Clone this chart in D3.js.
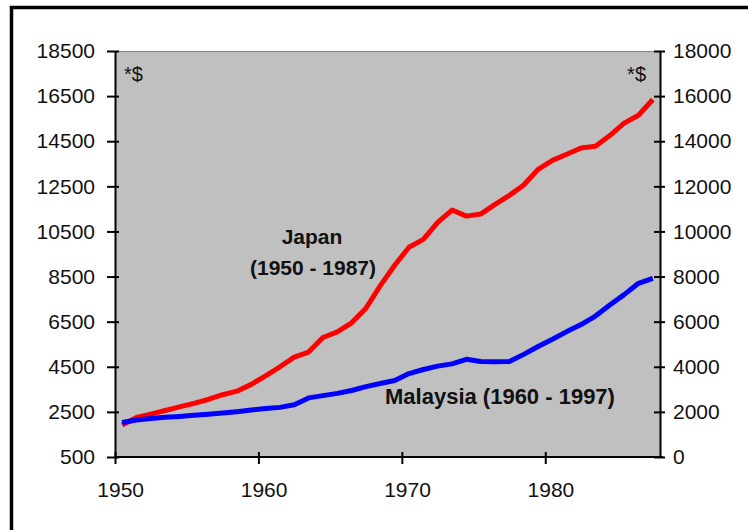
<!DOCTYPE html>
<html><head><meta charset="utf-8">
<script src="https://cdn.jsdelivr.net/npm/d3@7"></script>
<style>
html,body{margin:0;padding:0;background:#fff;}
svg{display:block;font-family:"Liberation Sans",Arial,sans-serif;}
</style></head>
<body>
<svg id="chart" width="748" height="530"></svg>
<script>
// ---- data ----
const japanYears = d3.range(1950, 1988);
const japanValues = [1920,2250,2400,2560,2720,2880,3050,3260,3420,3720,
  4100,4500,4930,5150,5800,6050,6450,7100,8100,9000,
  9800,10150,10900,11450,11180,11270,11700,12100,12560,13250,
  13650,13920,14200,14280,14750,15300,15650,16350];
const malaysiaYears = d3.range(1960, 1998);
const malaysiaValues = [1530,1640,1710,1760,1800,1850,1900,1950,2010,2080,
  2150,2200,2320,2620,2720,2820,2950,3120,3260,3390,
  3700,3880,4030,4130,4330,4230,4220,4230,4550,4900,
  5220,5560,5870,6250,6740,7200,7700,7920];
const xTickYears = [1950, 1960, 1970, 1980];
const leftTicks = [500,2500,4500,6500,8500,10500,12500,14500,16500,18500];
const rightTicks = [0,2000,4000,6000,8000,10000,12000,14000,16000,18000];
const japanLabel = ["Japan", "(1950 - 1987)"];
const malaysiaLabel = "Malaysia (1960 - 1997)";
const unitLabel = "*$";

// ---- layout ----
const L = 115, R = 660, T = 51, B = 457;
const svg = d3.select("#chart");

// outer frame (top and left visible)
svg.append("rect").attr("x", 11.5).attr("y", 7.5).attr("width", 800).attr("height", 600)
  .attr("fill", "none").attr("stroke", "#000").attr("stroke-width", 3.5);

const x = d3.scaleLinear().domain([1950, 1988]).range([L, R]);
const yL = d3.scaleLinear().domain([500, 18500]).range([B, T]);
const yR = d3.scaleLinear().domain([0, 18000]).range([B, T]);

// plot area
svg.append("rect").attr("x", L).attr("y", T).attr("width", R - L).attr("height", B - T)
  .attr("fill", "#c0c0c0");
svg.append("line").attr("x1", L).attr("x2", R).attr("y1", T + 0.5).attr("y2", T + 0.5)
  .attr("stroke", "#808080").attr("stroke-width", 1);

const fs = "21px";

// left axis
const gL = svg.append("g").attr("transform", `translate(${L},0)`)
  .call(d3.axisLeft(yL).tickValues(leftTicks).tickFormat(d3.format("d")).tickSizeInner(8).tickSizeOuter(0).tickPadding(12));
gL.selectAll(".tick line").attr("x1", 4).attr("stroke-width", 2);
gL.select(".domain").attr("stroke-width", 2);
gL.selectAll("text").attr("font-size", fs).attr("fill", "#111").attr("font-family", null);

// right axis
const gR = svg.append("g").attr("transform", `translate(${R},0)`)
  .call(d3.axisRight(yR).tickValues(rightTicks).tickFormat(d3.format("d")).tickSizeInner(5).tickSizeOuter(0).tickPadding(8));
gR.selectAll(".tick line").attr("x1", -6).attr("stroke-width", 2);
gR.select(".domain").attr("stroke-width", 2);
gR.selectAll("text").attr("font-size", fs).attr("fill", "#111").attr("font-family", null);

// bottom axis
const gB = svg.append("g").attr("transform", `translate(0,${B})`)
  .call(d3.axisBottom(x).tickValues(xTickYears).tickFormat(d3.format("d")).tickSizeInner(7).tickSizeOuter(0).tickPadding(18));
gB.selectAll(".tick line").attr("y1", -5).attr("stroke-width", 2);
gB.select(".domain").attr("stroke-width", 2).attr("d", `M${L},0H${R + 3}`);
gB.selectAll("text").attr("font-size", fs).attr("fill", "#111").attr("font-family", null)
  .attr("dx", (x(1950.5) - x(1950)) - 2);
svg.selectAll(".domain").attr("stroke", "#000");

// lines
const lineJ = d3.line().x((d, i) => x(japanYears[i] + 0.5)).y(d => yL(d));
const lineM = d3.line().x((d, i) => x(malaysiaYears[i] - 10 + 0.5)).y(d => yR(d));
svg.append("path").datum(japanValues).attr("d", lineJ)
  .attr("fill", "none").attr("stroke", "#ff0000").attr("stroke-width", 5)
  .attr("stroke-linejoin", "round");
svg.append("path").datum(malaysiaValues).attr("d", lineM)
  .attr("fill", "none").attr("stroke", "#0000ff").attr("stroke-width", 5)
  .attr("stroke-linejoin", "round");

// annotations
svg.append("text").attr("x", 124).attr("y", 81).attr("font-size", "20px").attr("fill", "#111").text(unitLabel);
svg.append("text").attr("x", 646).attr("y", 81).attr("text-anchor", "end").attr("font-size", "20px").attr("fill", "#111").text(unitLabel);

svg.append("text").attr("x", 312).attr("y", 244).attr("text-anchor", "middle")
  .attr("font-size", fs).attr("font-weight", "bold").attr("fill", "#111").text(japanLabel[0]);
svg.append("text").attr("x", 313).attr("y", 275).attr("text-anchor", "middle")
  .attr("font-size", fs).attr("font-weight", "bold").attr("fill", "#111").text(japanLabel[1]);
svg.append("text").attr("x", 385).attr("y", 404)
  .attr("font-size", "22px").attr("font-weight", "bold").attr("fill", "#111").text(malaysiaLabel);
</script>
</body></html>
